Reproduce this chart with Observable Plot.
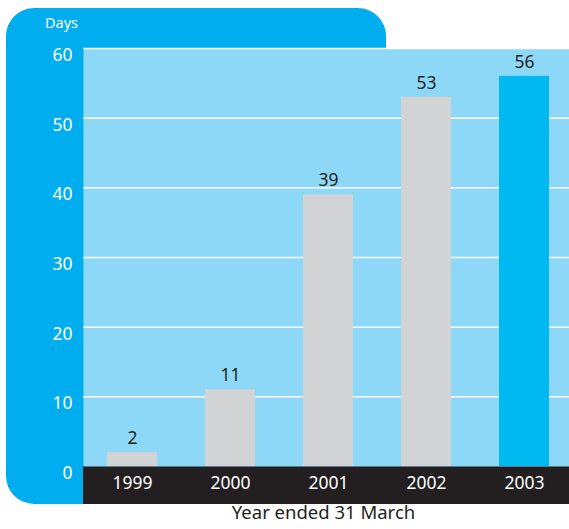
<!DOCTYPE html>
<html>
<head>
<meta charset="utf-8">
<script src="https://cdn.jsdelivr.net/npm/d3@7"></script>
<script src="https://cdn.jsdelivr.net/npm/@observablehq/plot@0.6"></script>
<style>
  html, body { margin: 0; padding: 0; background: #fff; }
  #wrap { position: relative; width: 569px; height: 529px; overflow: hidden; }
  #panel { position: absolute; left: 6px; top: 8px; width: 380px; height: 496px; background: #00aeef; border-radius: 28px; }
  #band { position: absolute; left: 83px; top: 466px; width: 486px; height: 38px; background: #231f20; }
  #chart { position: absolute; left: 0; top: 0; }
</style>
</head>
<body>
<div id="wrap"><div id="panel"></div><div id="band"></div><div id="chart"></div></div>
<script>
const years = ["1999", "2000", "2001", "2002", "2003"];
const days = [2, 11, 39, 53, 56];
const highlight = ["2003"];
const yTicks = [0, 10, 20, 30, 40, 50, 60];
const yLabel = "Days";
const xLabel = "Year ended 31 March";

const data = years.map((y, i) => ({year: y, days: days[i]}));
const font = "Noto Sans, Open Sans, sans-serif";

const chart = Plot.plot({
  width: 569,
  height: 529,
  marginTop: 48,
  marginLeft: 83,
  marginRight: 0,
  marginBottom: 63,
  style: {background: "transparent", fontFamily: font, fontSize: "17.5px"},
  x: {domain: years, range: [83, 573], paddingInner: 0.49, paddingOuter: 0.245, axis: null},
  y: {domain: [0, 60], axis: null},
  marks: [
    Plot.frame({fill: "#8ed8f7", stroke: null}),
    Plot.gridY(yTicks.filter(d => d > 0), {stroke: "white", strokeOpacity: 1, strokeWidth: 1.5}),
    Plot.barY(data, {x: "year", y: "days", fill: d => highlight.includes(d.year) ? "#00b9f1" : "#d1d3d4"}),
    Plot.text(data, {x: "year", y: "days", text: d => String(d.days), dy: -14, fill: "#231f20", fontSize: 17.5}),
    Plot.axisY(yTicks, {tickSize: 0, tickPadding: 11, dy: 7, fill: "white", label: null, fontSize: 17.5}),
    Plot.axisX({tickSize: 0, tickPadding: 10, fill: "white", label: null, fontSize: 17.5}),
    Plot.text([yLabel], {frameAnchor: "top-left", dx: -22, dy: -31, textAnchor: "middle", fill: "white", fontSize: 14.5}),
    Plot.text([xLabel], {frameAnchor: "bottom", dx: -3, dy: 52, fill: "#231f20", fontSize: 18.5})
  ]
});
document.getElementById("chart").appendChild(chart);
</script>
</body>
</html>
